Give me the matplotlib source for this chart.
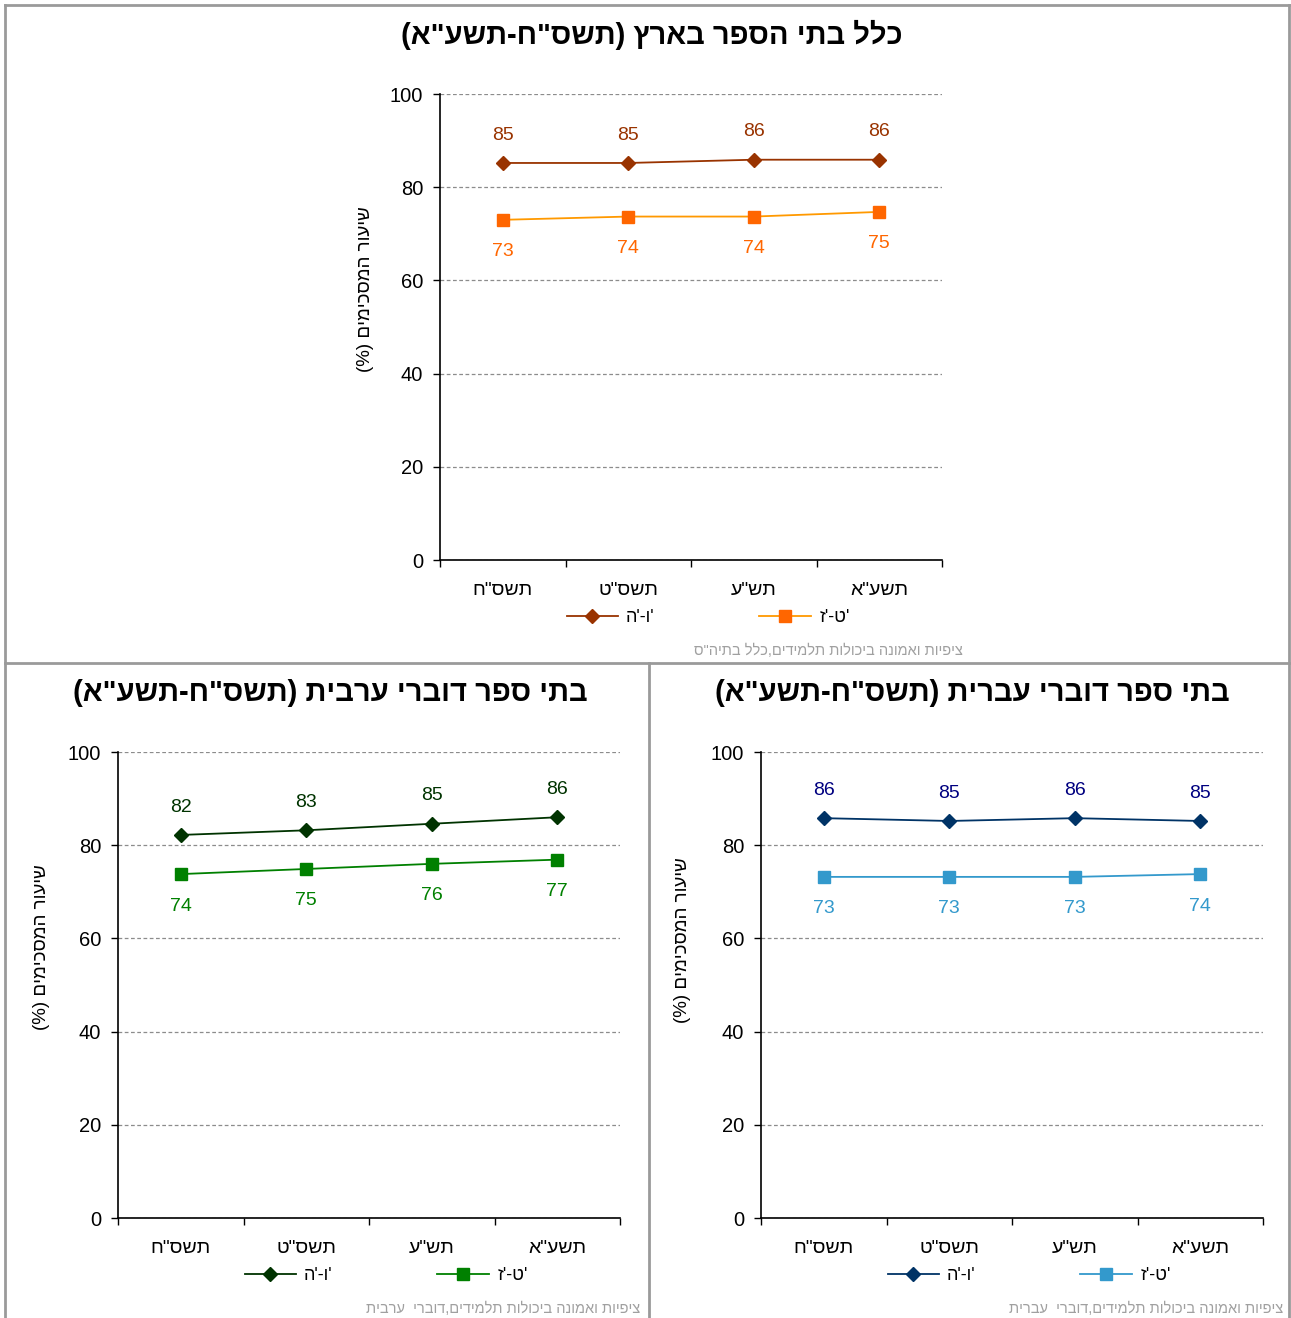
import matplotlib
matplotlib.use("Agg")
import matplotlib.pyplot as plt
from matplotlib.lines import Line2D

plt.rcParams["font.family"] = ["Liberation Sans", "DejaVu Sans"]


def vis(s):
    # matplotlib has no bidi support: flip to visual order, mirror brackets
    out = s[::-1]
    return out.replace("(", "\0").replace(")", "(").replace("\0", ")")


years = ['תשס"ח', 'תשס"ט', 'תש"ע', 'תשע"א']
series_names = ["ה'-ו'", "ז'-ט'"]  # already in the visual order shown

all_upper = [85.2, 85.2, 85.9, 85.9]
all_lower = [73.0, 73.7, 73.7, 74.7]
arab_upper = [82.2, 83.2, 84.6, 86.0]
arab_lower = [73.8, 74.9, 76.0, 76.9]
heb_upper = [85.8, 85.2, 85.8, 85.2]
heb_lower = [73.2, 73.2, 73.2, 73.8]

W, H = 1291, 1318
fig = plt.figure(figsize=(W / 100, H / 100), dpi=100)


def px(x, y):
    return x / W, 1 - y / H


def panel(rect, title, title_xy, ylab_xy, foot, foot_xy, up, low, colors, leg_y):
    ax = fig.add_axes(rect)
    x = range(len(years))
    c_up_line, c_up_mk, c_up_txt, c_lo_line, c_lo_mk, c_lo_txt = colors
    ax.plot(x, up, color=c_up_line, lw=1.3, marker="D", ms=7,
            mfc=c_up_mk, mec=c_up_mk, zorder=3)
    ax.plot(x, low, color=c_lo_line, lw=1.3, marker="s", ms=8,
            mfc=c_lo_mk, mec=c_lo_mk, zorder=3)
    for i in x:
        ax.annotate(f"{up[i]:.0f}", (i, up[i]), xytext=(0, 20), textcoords="offset points",
                    ha="center", va="center", fontsize=14, color=c_up_txt)
        ax.annotate(f"{low[i]:.0f}", (i, low[i]), xytext=(0, -23), textcoords="offset points",
                    ha="center", va="center", fontsize=14, color=c_lo_txt)

    ax.set_xlim(-0.5, 3.5)
    ax.set_ylim(0, 100)
    ax.set_yticks(range(0, 101, 20))
    ax.yaxis.grid(True, ls=(0, (3, 2)), color="#8c8c8c", lw=0.9)
    ax.set_axisbelow(True)
    ax.set_xticks([-0.5, 0.5, 1.5, 2.5, 3.5])
    ax.set_xticklabels([])
    ax.set_xticks(list(x), minor=True)
    ax.set_xticklabels([vis(y) for y in years], minor=True, fontsize=14)
    ax.tick_params(axis="x", which="minor", length=0, pad=16)
    ax.tick_params(axis="x", which="major", length=5, width=1, direction="out")
    ax.tick_params(axis="y", length=5, width=1, labelsize=14.5, pad=7)
    for s in ("top", "right"):
        ax.spines[s].set_visible(False)
    for s in ("left", "bottom"):
        ax.spines[s].set_linewidth(1.2)

    fig.text(*px(*title_xy), vis(title), ha="center", va="center",
             fontsize=21, fontweight="bold")
    fig.text(*px(*ylab_xy), vis("שיעור המסכימים (%)"), ha="center", va="center",
             rotation=90, fontsize=13.5)
    fig.text(*px(*foot_xy), vis(foot), ha="right", va="center",
             fontsize=10.5, color="#a0a0a0")

    handles = [
        Line2D([], [], color=c_up_line, lw=1.3, marker="D", ms=7, mfc=c_up_mk, mec=c_up_mk),
        Line2D([], [], color=c_lo_line, lw=1.3, marker="s", ms=8, mfc=c_lo_mk, mec=c_lo_mk),
    ]
    lx = rect[0] + rect[2] / 2 + 17 / W
    fig.legend(handles, series_names, loc="center", bbox_to_anchor=(lx, 1 - leg_y / H),
               ncol=2, frameon=False, fontsize=13, handlelength=2.85,
               columnspacing=5.8, handletextpad=0.45)
    return ax


aw, ah = 502 / W, 466 / H

panel([440 / W, 1 - 560 / H, aw, ah],
      'כלל בתי הספר בארץ (תשס"ח-תשע"א)', (652, 35), (365, 289),
      'ציפיות ואמונה ביכולות תלמידים,כלל בתיה"ס', (963, 651),
      all_upper, all_lower,
      ("#993300", "#993300", "#993300", "#FF9900", "#FF6600", "#FF6600"), 618)

panel([118 / W, 1 - 1218 / H, aw, ah],
      'בתי ספר דוברי ערבית (תשס"ח-תשע"א)', (330, 693), (42, 947),
      "ציפיות ואמונה ביכולות תלמידים,דוברי  ערבית", (640, 1309),
      arab_upper, arab_lower,
      ("#003300", "#003300", "#003300", "#008000", "#008000", "#008000"), 1276)

panel([761 / W, 1 - 1218 / H, aw, ah],
      'בתי ספר דוברי עברית (תשס"ח-תשע"א)', (972, 693), (683, 940),
      "ציפיות ואמונה ביכולות תלמידים,דוברי  עברית", (1283, 1309),
      heb_upper, heb_lower,
      ("#003366", "#003366", "#000080", "#3399CC", "#3399CC", "#3399CC"), 1276)

# panel frames
frame = dict(color="#9a9a9a", lw=2, transform=fig.transFigure)
for xs, ys in [
    ([5, 1289], [5, 5]),
    ([5, 5], [5, H]),
    ([1289, 1289], [5, H]),
    ([5, 1289], [663, 663]),
    ([649, 649], [663, H]),
]:
    fig.add_artist(Line2D([v / W for v in xs], [1 - v / H for v in ys], **frame))

fig.savefig("out.png", dpi=100)
